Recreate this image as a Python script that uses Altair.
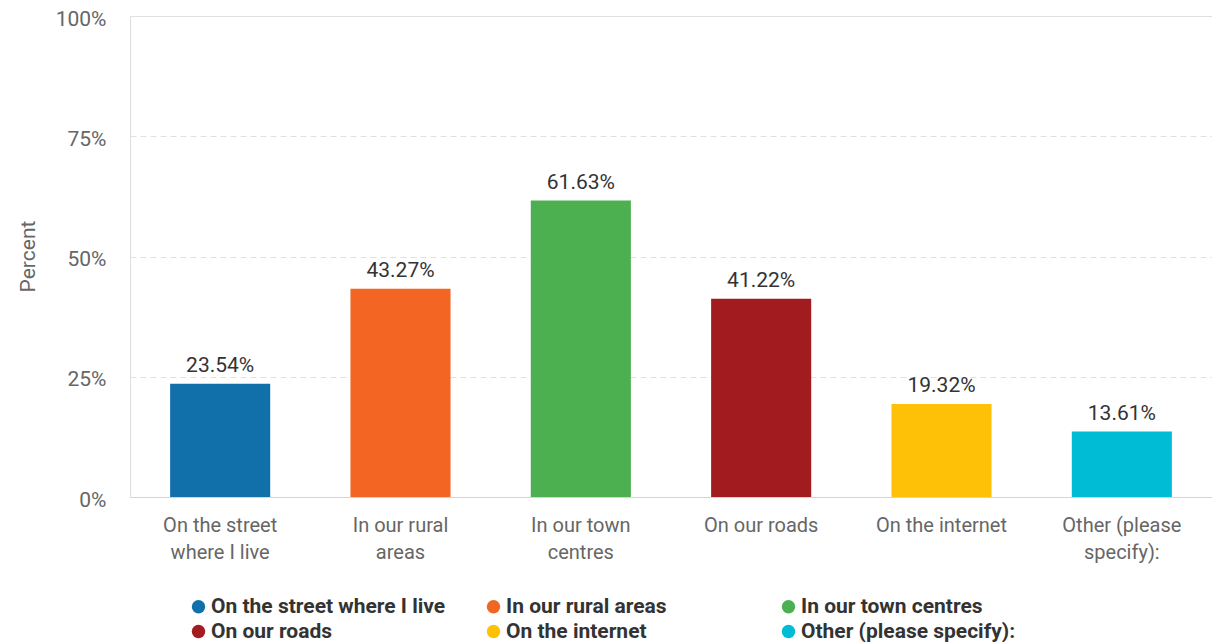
import altair as alt
import pandas as pd

categories = [
    "On the street where I live",
    "In our rural areas",
    "In our town centres",
    "On our roads",
    "On the internet",
    "Other (please specify):",
]
values = [23.54, 43.27, 61.63, 41.22, 19.32, 13.61]
wrapped = [
    ["On the street", "where I live"],
    ["In our rural", "areas"],
    ["In our town", "centres"],
    ["On our roads"],
    ["On the internet"],
    ["Other (please", "specify):"],
]
colors = ["#1170aa", "#f26522", "#4caf50", "#a21b1f", "#ffc107", "#00bcd4"]
y_ticks = [0, 25, 50, 75, 100]

df = pd.DataFrame({"category": categories, "value": values})

def arr(lines):
    return "[" + ",".join("'" + s.replace("'", "\\'") + "'" for s in lines) + "]"

expr = "datum.label"
for cat, lines in reversed(list(zip(categories, wrapped))):
    expr = f"datum.label == '{cat}' ? {arr(lines)} : ({expr})"

FONT = "Roboto"

x = alt.X(
    "category:N",
    sort=categories,
    scale=alt.Scale(paddingInner=0.445, paddingOuter=0.2225),
    axis=alt.Axis(
        title=None,
        labelAngle=0,
        labelExpr=expr,
        labelFont=FONT,
        labelFontSize=20,
        labelColor="#666666",
        labelPadding=18,
        labelLineHeight=27,
        ticks=False,
        domainColor="#ccd6eb",
        domainWidth=1,
        grid=False,
        labelLimit=300,
    ),
)
y = alt.Y(
    "value:Q",
    scale=alt.Scale(domain=[0, 100]),
    axis=alt.Axis(
        title="Percent",
        values=y_ticks,
        labelExpr="datum.value + '%'",
        labelFont=FONT,
        labelFontSize=21,
        labelColor="#666666",
        labelPadding=24,
        labelOffset=3,
        ticks=False,
        domain=False,
        grid=True,
        gridColor="#e0e0e0",
        gridDash=[6, 4],
        gridWidth=1,
        titleFont=FONT,
        titleFontSize=21,
        titleFontWeight="normal",
        titleColor="#666666",
        titleX=-102,
        titleY=240,
        titleAngle=270,
        titleAlign="center",
        titleBaseline="middle",
    ),
)

bars = alt.Chart(df).mark_bar().encode(
    x=x,
    y=y,
    color=alt.Color(
        "category:N",
        sort=categories,
        scale=alt.Scale(domain=categories, range=colors),
        legend=alt.Legend(
            title=None,
            orient="none",
            legendX=58,
            legendY=580,
            direction="horizontal",
            columns=3,
            gridAlign="all",
            columnPadding=37,
            rowPadding=3,
            symbolType="circle",
            symbolSize=180,
            symbolStrokeWidth=0,
            symbolOpacity=1,
            labelFont=FONT,
            labelFontSize=21,
            labelFontWeight="bold",
            labelColor="#333333",
            labelOffset=2,
            labelLimit=400,
        ),
    ),
)

labels = alt.Chart(df).transform_calculate(
    txt="format(datum.value, '.2f') + '%'"
).mark_text(
    baseline="bottom", dy=-8, font=FONT, fontSize=21, color="#333333"
).encode(x=alt.X("category:N", sort=categories), y="value:Q", text="txt:N")

chart = (
    alt.layer(bars, labels)
    .properties(
        width=1082,
        height=481,
        autosize=alt.AutoSizeParams(type="none"),
        padding={"left": 122, "top": 8, "right": 0, "bottom": 145},
    )
    .configure_view(stroke=None)
    .configure(background="white")
)

chart.save("out.html", embed_options={"renderer": "svg", "actions": False})
